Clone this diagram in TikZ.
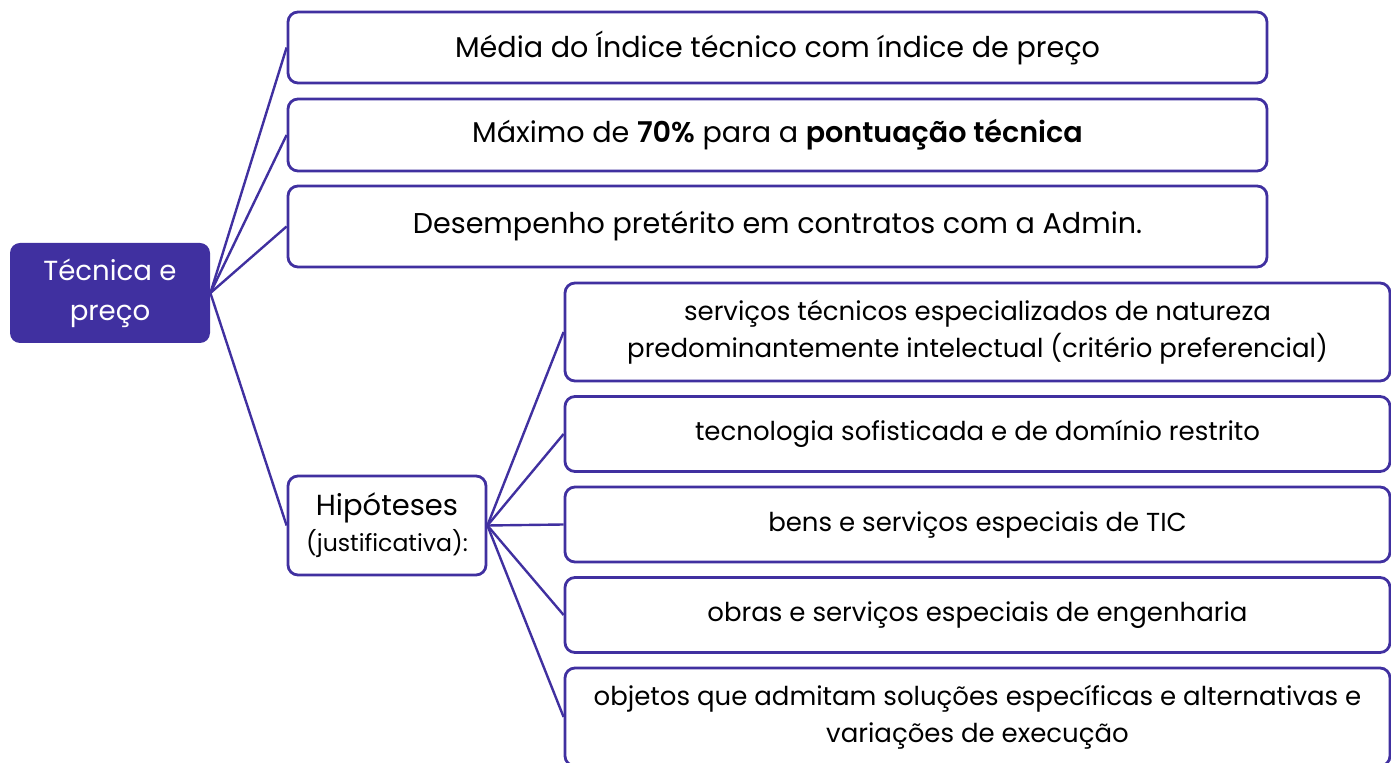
\documentclass[tikz,border=0pt]{standalone}
\usepackage{fontspec}
\setmainfont{Poppins}[BoldFont={* SemiBold}]
\usetikzlibrary{calc}
\definecolor{hipblue}{HTML}{4030A0}
\tikzset{
  itembox/.style={draw=hipblue, line width=1.4pt, rounded corners=5pt, fill=white,
    align=center, inner sep=2pt, font=\fontsize{14.3}{17}\selectfont},
  smallbox/.style={itembox, minimum width=412.5pt, font=\fontsize{13}{18.5}\selectfont},
  rootbox/.style={fill=hipblue, rounded corners=5pt, text=white, align=center,
    minimum width=100pt, minimum height=50pt, font=\fontsize{13.8}{20}\selectfont},
  branch/.style={draw=hipblue, line width=1.2pt}
}
\begin{document}
\begin{tikzpicture}[x=0.5pt,y=-0.5pt]
			%%%%% START %%%%%
			\useasboundingbox (0,0) rectangle (1391,763);
			
			\node[rootbox] (root) at (110, 293) {Técnica e\\preço};
			
			\node[itembox, minimum width=489.5pt, minimum height=35.5pt] (media) at (777.5, 47.5) {Média do Índice técnico com índice de preço};
			\node[itembox, minimum width=489.5pt, minimum height=36pt] (maximo) at (777.5, 135) {Máximo de \textbf{70\%} para a \textbf{pontuação técnica}};
			\node[itembox, minimum width=489.5pt, minimum height=40.5pt] (desemp) at (777.5, 226.5) {Desempenho pretérito em contratos com a Admin.};
			
			\node[itembox, minimum width=99pt, minimum height=49.5pt, font=\fontsize{14.5}{18}\selectfont] (hip) at (387, 525.5) {Hipóteses\\{\fontsize{11.8}{15}\selectfont(justificativa):}};
			
			\node[smallbox, minimum height=49pt] (servicos) at (977.5, 332) {serviços técnicos especializados de natureza\\predominantemente intelectual (critério preferencial)};
			\node[smallbox, minimum height=37.5pt] (tecno) at (977.5, 434) {tecnologia sofisticada e de domínio restrito};
			\node[smallbox, minimum height=37.5pt] (tic) at (977.5, 524.5) {bens e serviços especiais de TIC};
			\node[smallbox, minimum height=37.5pt] (obras) at (977.5, 615) {obras e serviços especiais de engenharia};
			\node[smallbox, minimum height=49pt] (objetos) at (977.5, 717) {objetos que admitam soluções específicas e alternativas e\\variações de execução};
			
			\draw[branch] (root.east) -- (media.west);
			\draw[branch] (root.east) -- (maximo.west);
			\draw[branch] (root.east) -- (desemp.west);
			\draw[branch] (root.east) -- (hip.west);
			
			\draw[branch] (hip.east) -- (servicos.west);
			\draw[branch] (hip.east) -- (tecno.west);
			\draw[branch] (hip.east) -- (tic.west);
			\draw[branch] (hip.east) -- (obras.west);
			\draw[branch] (hip.east) -- (objetos.west);
			
			%%%%% END %%%%%
\end{tikzpicture}
\end{document}
